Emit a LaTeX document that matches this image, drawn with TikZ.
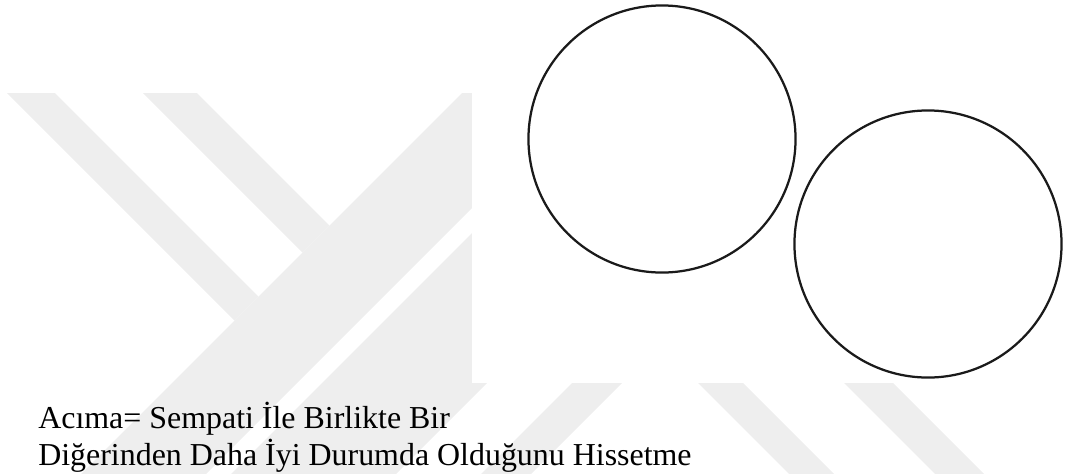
\documentclass[tikz,border=0pt]{standalone}
\usepackage{fontspec}
\setmainfont{Liberation Serif}
\usepackage{tikz}
\definecolor{MarkGray}{HTML}{EEEEEE}
\definecolor{RingBlack}{HTML}{1A1A1A}

\begin{document}
\begin{tikzpicture}[x=0.025cm, y=-0.025cm,
  ring/.style={circle, draw=RingBlack, line width=1.6pt, minimum size=6.675cm, inner sep=0pt},
  textline/.style={anchor=base west, inner sep=0pt, font=\fontsize{22.7}{26}\selectfont}]
\useasboundingbox (0,0) rectangle (1068,474);
% faint watermark stripes behind the figure
\fill[MarkGray] (7,93) -- (55,93) -- (258.5,296.5) -- (234.5,320.5) -- cycle;
\fill[MarkGray] (143,93) -- (197,93) -- (329.5,225.5) -- (302.5,252.5) -- cycle;
\fill[MarkGray] (462,93) -- (587,93) -- (206,474) -- (81,474) -- cycle;
\fill[MarkGray] (612,93) -- (777,93) -- (396,474) -- (231,474) -- cycle;
\fill[MarkGray] (862,93) -- (912,93) -- (531,474) -- (481,474) -- cycle;
\fill[MarkGray] (565,250) -- (610,250) -- (834,474) -- (789,474) -- cycle;
\fill[MarkGray] (711,250) -- (760,250) -- (984,474) -- (935,474) -- cycle;
% figure area
\fill[white] (472,0) rectangle (1068,383);
\node[ring] (self) at (662,139) {};
\node[ring] (other) at (928,244) {};
\node[textline] (line1) at (38,428) {Acıma= Sempati İle Birlikte Bir};
\node[textline] (line2) at (38,465) {Diğerinden Daha İyi Durumda Olduğunu Hissetme};
\end{tikzpicture}
\end{document}
